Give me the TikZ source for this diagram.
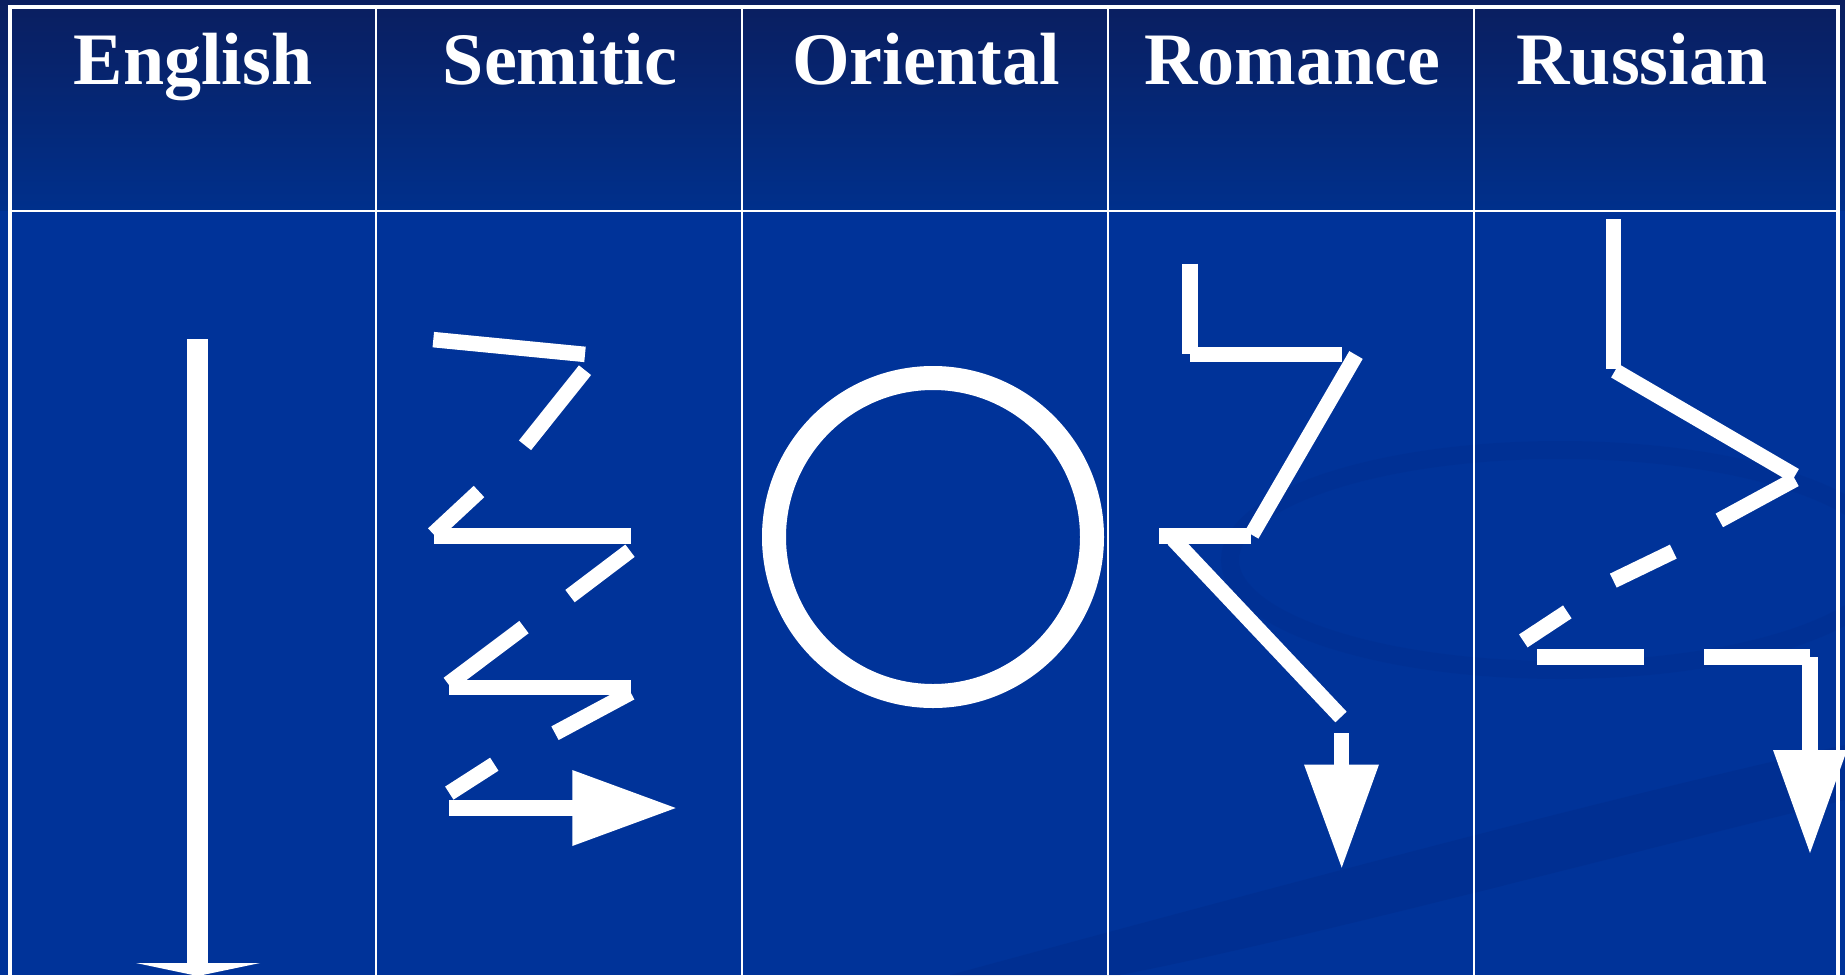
\documentclass[tikz,border=0pt]{standalone}
\usepackage{fontspec}
\setmainfont{Liberation Serif}
\usepackage{xcolor}

\definecolor{navytop}{RGB}{10,30,95}
\definecolor{navymid}{RGB}{0,48,140}
\definecolor{bodyblue}{RGB}{0,51,153}
\definecolor{swirlblue}{RGB}{0,44,138}

\tikzset{
  grid line/.style={white, line width=2.5pt},
  pen/.style={white, line width=15.5pt},
  head/.style={fill=white},
  title/.style={text=white, anchor=base, font=\fontsize{74}{80}\selectfont\bfseries}
}

\begin{document}
\begin{tikzpicture}[x=1pt,y=-1pt]
    \useasboundingbox (0,0) rectangle (1845,975);
    % background
    \shade[top color=navytop, bottom color=navymid] (0,0) rectangle (1845,211);
    \fill[bodyblue] (0,211) rectangle (1845,975);
    \fill[swirlblue, opacity=.45] (950,975) .. controls (1300,880) and (1600,800) .. (1845,745)
        -- (1845,800) .. controls (1600,860) and (1300,940) .. (1120,975) -- cycle;
    \draw[swirlblue, opacity=.3, line width=18pt] (1560,560) ellipse (330pt and 110pt);

    % table
    \draw[white, line width=4pt] (10,975) -- (10,7) -- (1838,7) -- (1838,975);
    \draw[grid line] (10,211) -- (1838,211);
    \foreach \x in {376,742,1108,1474}
        \draw[grid line] (\x,7) -- (\x,975);

    % headings
    \node[title] (english) at (193,84) {English};
    \node[title] (semitic) at (560,84) {Semitic};
    \node[title] (oriental) at (926,84) {Oriental};
    \node[title] (romance) at (1292,84) {Romance};
    \node[title] (russian) at (1642,84) {Russian};

    % English
    \draw[white, line width=21pt] (197.8,339) -- (197.8,964);
    \fill[head] (136,963) -- (260,963) -- (197.8,976) -- cycle;

    % Semitic
    \draw[pen] (433.3,339.6) -- (585,354.4);
    \draw[pen] (585,370.2) -- (525,445.3);
    \draw[pen] (479,491.5) -- (433.3,534);
    \draw[pen] (434,536.2) -- (630.7,536.2);
    \draw[pen] (630,550.7) -- (570,596.1);
    \draw[pen] (524,627.1) -- (448.3,684);
    \draw[pen] (449,687.7) -- (630.7,687.7);
    \draw[pen] (630.7,692.6) -- (555,733.2);
    \draw[pen] (494.3,764.2) -- (449.3,793.1);
    \draw[pen] (449,808) -- (573,808);
    \fill[head] (572.3,770) -- (675.7,808) -- (572.3,846) -- cycle;

    % Oriental
    \draw[white, line width=24pt] (933,537) circle (159pt);

    % Romance
    \draw[pen] (1190,263.7) -- (1190,354.2);
    \draw[pen] (1190,354.6) -- (1341.7,354.6);
    \draw[pen] (1356,355) -- (1251.7,534.7);
    \draw[pen] (1159.3,536) -- (1250.7,536);
    \draw[pen] (1173.3,539.3) -- (1341,717);
    \draw[pen] (1341.7,733) -- (1341.7,765);
    \fill[head] (1304,764.5) -- (1379,764.5) -- (1341.7,867.6) -- cycle;

    % Russian
    \draw[pen] (1613.3,219) -- (1613.3,368.6);
    \draw[pen] (1615,370.8) -- (1795,475.7);
    \draw[pen] (1795,479.3) -- (1719.3,520.4);
    \draw[pen] (1673.3,551.6) -- (1613.3,580.6);
    \draw[pen] (1567.3,611.9) -- (1523.3,640.9);
    \draw[pen] (1537.3,657) -- (1643.7,657);
    \draw[pen] (1704,657) -- (1810,657);
    \draw[pen] (1810,657) -- (1810,751);
    \fill[head] (1773,750) -- (1847,750) -- (1810,853) -- cycle;
\end{tikzpicture}
\end{document}
